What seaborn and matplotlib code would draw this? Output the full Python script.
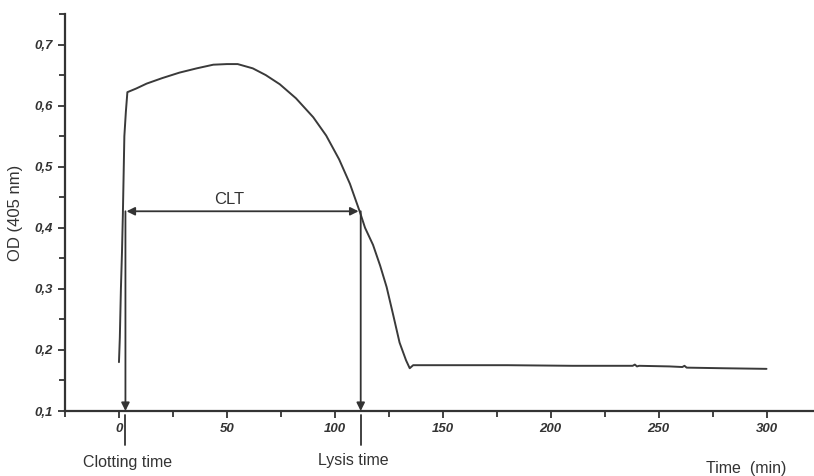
import matplotlib
matplotlib.use("Agg")
import matplotlib.pyplot as plt
import pandas as pd
import seaborn as sns

# clot lysis curve
time_min = [0, 0.4, 0.9, 1.4, 1.8, 2.5, 3.2, 3.9, 8, 12.8, 20, 28, 36, 43.7, 50, 55, 62, 68, 74.5,
            82, 90, 96, 102, 107, 111.6, 114, 117.7, 121, 124, 127, 130, 133, 134.7, 136.3,
            150, 180, 210, 238, 239, 240, 241, 255, 261, 262, 263, 280, 300]
od = [0.18, 0.22, 0.30, 0.36, 0.42, 0.55, 0.59, 0.622, 0.628, 0.636, 0.645, 0.654, 0.661, 0.667,
      0.668, 0.668, 0.661, 0.650, 0.635, 0.612, 0.581, 0.551, 0.512, 0.472, 0.426, 0.40, 0.372,
      0.338, 0.303, 0.258, 0.212, 0.183, 0.170, 0.175, 0.175, 0.175, 0.174, 0.174, 0.176, 0.173,
      0.174, 0.173, 0.172, 0.174, 0.171, 0.170, 0.169]

clotting_time = 3
lysis_time = 112
half_od = 0.427

df = pd.DataFrame({"Time": time_min, "OD": od})

sns.set_style("ticks")
plt.rcParams['font.family'] = ['Liberation Sans', 'DejaVu Sans']

fig = plt.figure(figsize=(8.14, 4.76), dpi=100)
ax = fig.add_axes([65 / 814, 65 / 476, 749 / 814, 397 / 476])

dark = '#333333'
sns.lineplot(data=df, x="Time", y="OD", ax=ax, color='#3a3a3a', linewidth=1.4, sort=False)

ax.set_xlim(-25, 322)
ax.set_ylim(0.1, 0.75)
ax.set_xticks([0, 50, 100, 150, 200, 250, 300])
ax.set_xticks([-25, 25, 75, 125, 175, 225, 275], minor=True)
ax.set_yticks([0.1, 0.2, 0.3, 0.4, 0.5, 0.6, 0.7])
ax.set_yticks([0.15, 0.25, 0.35, 0.45, 0.55, 0.65, 0.75], minor=True)
ax.set_yticklabels(['0,1', '0,2', '0,3', '0,4', '0,5', '0,6', '0,7'])
ax.tick_params(axis='both', which='major', length=5, width=1.3, color=dark,
               labelsize=9.5, labelcolor='#333333', pad=4)
ax.tick_params(axis='both', which='minor', length=4, width=1.3, color=dark)
for lab in ax.get_xticklabels() + ax.get_yticklabels():
    lab.set_fontweight('bold')
    lab.set_fontstyle('italic')
ax.set_xlabel('')
ax.set_ylabel('OD (405 nm)', fontsize=12, color='#333333', labelpad=8)
sns.despine(ax=ax)
for s in ['left', 'bottom']:
    ax.spines[s].set_linewidth(1.6)
    ax.spines[s].set_color(dark)

# arrows
arrow_kw = dict(color='#333333', lw=1.3, mutation_scale=12, shrinkA=0, shrinkB=0)
ax.annotate('', xy=(clotting_time + 0.5, half_od), xytext=(lysis_time - 1, half_od),
            arrowprops=dict(arrowstyle='<|-|>', **arrow_kw))
ax.annotate('', xy=(clotting_time, 0.1), xytext=(clotting_time, half_od),
            arrowprops=dict(arrowstyle='-|>', **arrow_kw))
ax.annotate('', xy=(lysis_time, 0.1), xytext=(lysis_time, half_od),
            arrowprops=dict(arrowstyle='-|>', **arrow_kw))
ax.text(51, 0.446, 'CLT', ha='center', va='center', fontsize=12, color='#333333')

# marker lines below the axis
for t in [clotting_time, lysis_time]:
    ax.plot([t, t], [0.094, 0.045], color='#333333', lw=1.3, clip_on=False)

fig.text(128 / 814, 1 - 462 / 476, 'Clotting time', ha='center', va='center', fontsize=11.5, color='#333333')
fig.text(353 / 814, 1 - 461 / 476, 'Lysis time', ha='center', va='center', fontsize=11.5, color='#333333')
fig.text(746 / 814, 1 - 469 / 476, 'Time  (min)', ha='center', va='center', fontsize=11.5, color='#333333')

fig.savefig('out.png', dpi=100)
